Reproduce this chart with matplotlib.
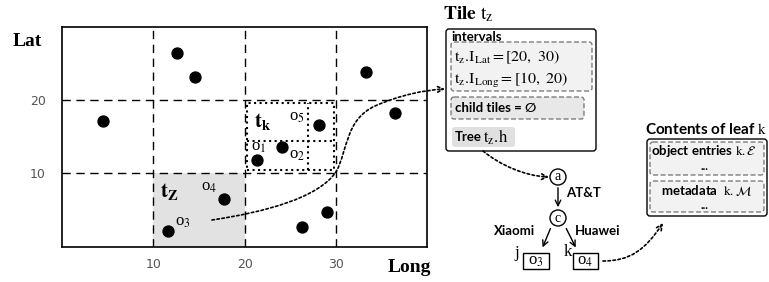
import matplotlib
matplotlib.use("Agg")
import matplotlib.pyplot as plt
from matplotlib.patches import Rectangle, FancyBboxPatch, Circle, FancyArrowPatch
from matplotlib.path import Path

plt.rcParams["font.family"] = ["Liberation Serif", "DejaVu Serif"]
plt.rcParams["mathtext.fontset"] = "stix"

# objects on the map (Long, Lat)
obj_long = [12.6, 14.6, 4.5, 33.3, 36.5, 28.2, 24.1, 21.4, 17.7, 11.6, 26.3, 29.0]
obj_lat = [26.4, 23.2, 17.2, 23.9, 18.3, 16.6, 13.6, 11.8, 6.5, 2.2, 2.7, 4.8]

# labelled objects
lab_text = ["o$_1$", "o$_2$", "o$_3$", "o$_4$", "o$_5$"]
lab_long = [21.5, 25.7, 13.2, 16.1, 25.7]
lab_lat = [13.6, 12.5, 3.4, 8.1, 17.7]

grid_long = [10, 20, 30]
grid_lat = [10, 20]

sans = ["Lato", "DejaVu Sans"]
dash = (0, (6, 4))
fs_sans = 9.5

fig = plt.figure(figsize=(7.69, 2.82), dpi=100)

# map of tiles
ax = fig.add_axes([62.3 / 769, (282 - 246.7) / 282, 364.7 / 769, 219.9 / 282])
ax.set_xlim(0, 40)
ax.set_ylim(0, 30)
ax.add_patch(Rectangle((10, 0), 10, 10, fc="#e2e2e2", ec="none", zorder=0))
for x in grid_long:
    ax.axvline(x, color="black", lw=1, ls=dash, zorder=1)
for y in grid_lat:
    ax.axhline(y, color="black", lw=1, ls=dash, zorder=1)

# tile t_k and its children
ax.add_patch(Rectangle((20.3, 10.4), 9.55, 9.2, fill=False, ls=":", lw=1.5, zorder=2))
ax.plot([27, 27], [10.4, 19.6], ls=":", lw=1.5, color="black", zorder=2)
ax.plot([20.3, 29.85], [14.4, 14.4], ls=":", lw=1.5, color="black", zorder=2)

ax.scatter(obj_long, obj_lat, s=62, color="black", zorder=3)
for t, x, y in zip(lab_text, lab_long, lab_lat):
    ax.text(x, y, t, fontsize=12, ha="center", va="center")
ax.text(22.0, 17.1, r"$\mathbf{t_k}$", fontsize=15, ha="center", va="center")
ax.text(11.7, 7.5, r"$\mathbf{t_Z}$", fontsize=15, ha="center", va="center")

ax.set_xticks(grid_long)
ax.set_yticks(grid_lat)
ax.tick_params(length=0, colors="#555555", labelsize=9)
ax.tick_params(axis="x", pad=8)
ax.tick_params(axis="y", pad=12)
for lab in ax.get_xticklabels() + ax.get_yticklabels():
    lab.set_family("DejaVu Sans")
for s in ax.spines.values():
    s.set_linewidth(1.2)
ax.set_xlabel("Long", fontsize=14, fontweight="bold", va="center")
ax.xaxis.set_label_coords(0.953, -0.093)
ax.set_ylabel("Lat", fontsize=14, fontweight="bold", rotation=0, ha="center", va="center")
ax.yaxis.set_label_coords(-0.097, 0.934)

# overlay in pixel coordinates for the diagram part
ov = fig.add_axes([0, 0, 1, 1], zorder=5)
ov.set_xlim(0, 769)
ov.set_ylim(282, 0)
ov.axis("off")


def box(x0, y0, x1, y1, fc="white", ec="black", ls="-", lw=1.0):
    ov.add_patch(FancyBboxPatch((x0, y0), x1 - x0, y1 - y0,
                                boxstyle="round,pad=0,rounding_size=3",
                                fc=fc, ec=ec, ls=ls, lw=lw))


def curve(pts):
    codes = [Path.MOVETO] + [Path.CURVE4] * (len(pts) - 1)
    ov.add_patch(FancyArrowPatch(path=Path(pts, codes), arrowstyle="->",
                                 mutation_scale=10, ls=(0, (1.5, 1.5)), lw=1.2,
                                 color="black"))


# S curve from tile t_z to the tile record
curve([(212, 220), (265, 212), (318, 198), (336, 172),
       (348, 150), (345, 120), (375, 106),
       (400, 95), (425, 90), (445, 89)])

# tile record
ov.text(443, 14, r"$\mathbf{Tile}\ \mathrm{t_z}$", fontsize=14, ha="left", va="center")
box(446, 29, 596, 151)
ov.text(451, 37, "intervals", family=sans, fontweight="bold", fontsize=fs_sans, va="center")
box(451, 42, 592, 91, fc="#f2f2f2", ec="#707070", ls=(0, (4, 2)), lw=0.9)
ov.text(454, 57, r"$\mathrm{t_z.\!I_{Lat} = [20,\ 30)}$", fontsize=11.5, va="center")
ov.text(454, 80, r"$\mathrm{t_z.\!I_{Long} = [10,\ 20)}$", fontsize=11.5, va="center")
box(451, 97, 584, 119, fc="#e8e8e8", ec="#707070", ls=(0, (4, 2)), lw=0.9)
ov.text(455, 108, "child tiles = \u2205", family=sans, fontweight="bold", fontsize=fs_sans, va="center")
box(452, 127, 515, 147, fc="#e0e0e0", ec="none")
ov.text(455, 137, "Tree", family=sans, fontweight="bold", fontsize=fs_sans, va="center")
ov.text(483, 137, r"$\mathrm{t_z.\!h}$", fontsize=12, va="center")

# tree of the tile
curve([(483, 151), (500, 165), (525, 176), (549, 177)])
for cx, cy, t in [(558, 177, "a"), (558, 218, "c")]:
    ov.add_patch(Circle((cx, cy), 8, fc="white", ec="black", lw=1))
    ov.text(cx, cy, t, fontsize=10, ha="center", va="center")
ov.annotate("", xy=(558, 210), xytext=(558, 185),
            arrowprops=dict(arrowstyle="->", lw=1, color="black"))
ov.annotate("", xy=(541.5, 250), xytext=(551.5, 226),
            arrowprops=dict(arrowstyle="->", lw=1, color="black"))
ov.annotate("", xy=(577, 250), xytext=(565, 226),
            arrowprops=dict(arrowstyle="->", lw=1, color="black"))
ov.text(566, 193, "AT&T", family=sans, fontweight="bold", fontsize=fs_sans, va="center")
ov.text(535, 231, "Xiaomi", family=sans, fontweight="bold", fontsize=fs_sans, ha="right", va="center")
ov.text(575, 231, "Huawei", family=sans, fontweight="bold", fontsize=fs_sans, va="center")
ov.add_patch(Rectangle((523, 253), 26, 16, fc="white", ec="black", lw=1))
ov.text(536, 261, "o$_3$", fontsize=12, ha="center", va="center")
ov.text(517, 253, "j", fontsize=12, ha="center", va="center")
ov.add_patch(Rectangle((573, 253), 25, 16, fc="white", ec="black", lw=1))
ov.text(585.5, 261, "o$_4$", fontsize=12, ha="center", va="center")
ov.text(568, 252, "k", fontsize=12, ha="center", va="center")

# leaf contents
curve([(603, 261), (630, 261), (645, 250), (663, 223)])
ov.text(645, 129, r"Contents of leaf $\mathrm{k}$", family=sans, fontweight="bold",
        fontsize=11, va="center")
box(647, 139, 767, 216)
box(650, 142, 764, 175, fc="#f2f2f2", ec="#707070", ls=(0, (4, 2)), lw=0.9)
ov.text(651, 151, r"object entries $\mathrm{k.}\mathcal{E}$", family=sans, fontweight="bold",
        fontsize=fs_sans, va="center")
ov.text(704, 170, "...", family=sans, fontweight="bold", fontsize=8, ha="center", va="baseline")
box(650, 181, 764, 212, fc="#f2f2f2", ec="#707070", ls=(0, (4, 2)), lw=0.9)
ov.text(706, 191, r"metadata  $\mathrm{k.}\mathcal{M}$", family=sans, fontweight="bold",
        fontsize=fs_sans, ha="center", va="center")
ov.text(704, 209, "...", family=sans, fontweight="bold", fontsize=8, ha="center", va="baseline")

fig.savefig("out.png", dpi=100)
